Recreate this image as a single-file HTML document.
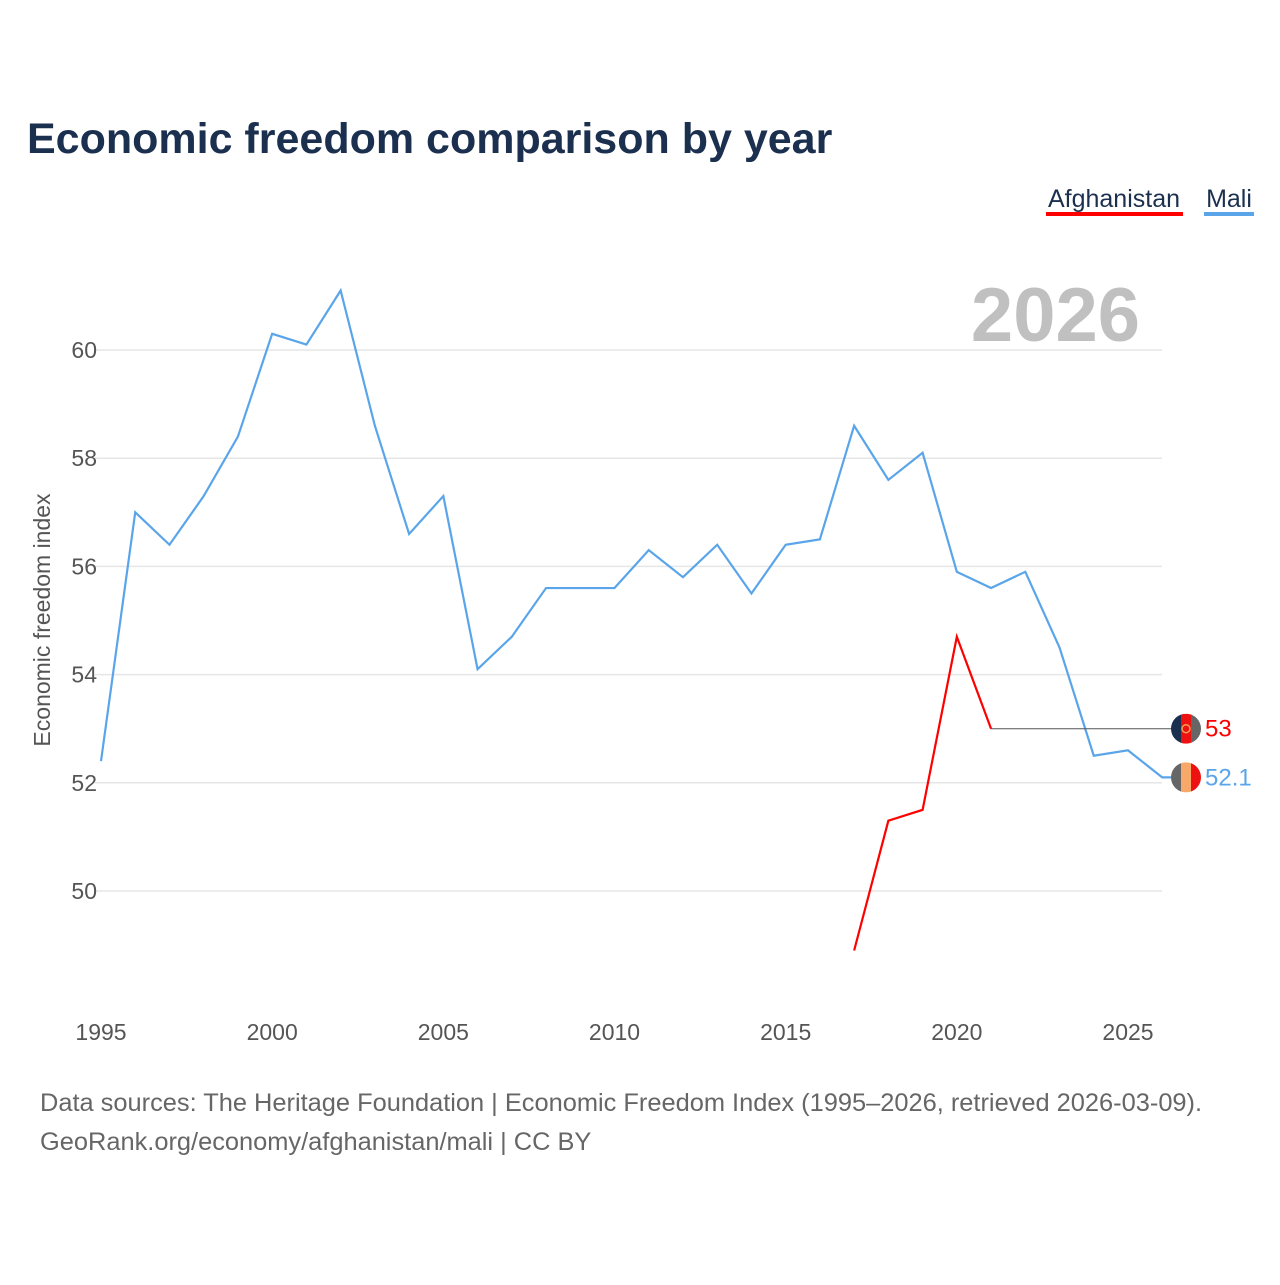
<!DOCTYPE html>
<html><head><meta charset="utf-8">
<style>
body{margin:0;background:#fff;}
svg text{font-family:"Liberation Sans",sans-serif;}
</style></head>
<body>
<svg id="chart" width="1280" height="1280" viewBox="0 0 1280 1280" xmlns="http://www.w3.org/2000/svg">
<rect width="1280" height="1280" fill="#fff"/>
<text x="27" y="153" font-size="43" font-weight="bold" fill="#1b2f4f">Economic freedom comparison by year</text>
<g>
<text x="1114" y="207" font-size="25" fill="#1b2f4f" text-anchor="middle">Afghanistan</text>
<rect x="1046" y="212" width="137" height="4" fill="#ff0000"/>
</g>
<g>
<text x="1229" y="207" font-size="25" fill="#1b2f4f" text-anchor="middle">Mali</text>
<rect x="1204" y="212" width="50" height="4" fill="#5aa5ea"/>
</g>
<text x="1140" y="341" font-size="76" font-weight="bold" fill="#c0c0c0" text-anchor="end">2026</text>
<text transform="translate(50,620) rotate(-90)" font-size="23" fill="#555" text-anchor="middle">Economic freedom index</text>
<g id="grid"></g><g id="yticks"></g><g id="xticks"></g><g id="series"></g><g id="ends"></g>
<text x="40" y="1111" font-size="25.4" fill="#666">Data sources: The Heritage Foundation | Economic Freedom Index (1995–2026, retrieved 2026-03-09).</text>
<text x="40" y="1150" font-size="25.4" fill="#666">GeoRank.org/economy/afghanistan/mali | CC BY</text>
</svg>
<script>
const years=[1995,1996,1997,1998,1999,2000,2001,2002,2003,2004,2005,2006,2007,2008,2009,2010,2011,2012,2013,2014,2015,2016,2017,2018,2019,2020,2021,2022,2023,2024,2025,2026];
const maliValues=[52.4,57.0,56.4,57.3,58.4,60.3,60.1,61.1,58.6,56.6,57.3,54.1,54.7,55.6,55.6,55.6,56.3,55.8,56.4,55.5,56.4,56.5,58.6,57.6,58.1,55.9,55.6,55.9,54.5,52.5,52.6,52.1];
const afgYears=[2017,2018,2019,2020,2021];
const afgValues=[48.9,51.3,51.5,54.7,53.0];
const yTicks=[50,52,54,56,58,60];
const xTicks=[1995,2000,2005,2010,2015,2020,2025];
const NS='http://www.w3.org/2000/svg';
const x=y=>101+(y-1995)*(1128-101)/30;
const yS=v=>891-(v-50)*(891-350)/10;
function mk(t,a,p){const e=document.createElementNS(NS,t);for(const k in a)e.setAttribute(k,a[k]);document.getElementById(p).appendChild(e);return e;}
yTicks.forEach(v=>{
 const l=mk('line',{x1:95,x2:1162,y1:yS(v),y2:yS(v),stroke:'#e6e6e6','stroke-width':1.5},'grid');
 
 
 const t=mk('text',{x:97,y:yS(v)+8,'font-size':23,fill:'#555','text-anchor':'end'},'yticks');
 t.textContent=v;
 
 
});
xTicks.forEach(v=>{
 const t=mk('text',{x:x(v),y:1040,'font-size':23,fill:'#555','text-anchor':'middle'},'xticks');
 t.textContent=v;
 
 
});
const mp=mk('polyline',{points:years.map((y,i)=>x(y)+','+yS(maliValues[i])).join(' ')+' 1172,'+yS(maliValues[maliValues.length-1]),fill:'none',stroke:'#5aa5ea','stroke-width':2.2},'series');


const ap=mk('polyline',{points:afgYears.map((y,i)=>x(y)+','+yS(afgValues[i])).join(' '),fill:'none',stroke:'#ff0000','stroke-width':2.2},'series');


const aLast=afgValues[afgValues.length-1], mLast=maliValues[maliValues.length-1];
const c=mk('line',{x1:x(afgYears[afgYears.length-1]),x2:1172,y1:yS(aLast),y2:yS(aLast),stroke:'#555','stroke-width':1},'series');


function flag(cy,cols,name,id){
 const g=mk('g',{},'ends');
 
 
 const cp=mk('clipPath',{id:id},'ends');mk('circle',{cx:1186,cy:cy,r:15},id);
 cols.forEach((col,i)=>{const r=document.createElementNS(NS,'rect');r.setAttribute('x',1171+i*10);r.setAttribute('y',cy-15);r.setAttribute('width',10.5);r.setAttribute('height',30);r.setAttribute('fill',col);r.setAttribute('clip-path','url(#'+id+')');g.appendChild(r);});
 return g;
}
const af=flag(yS(aLast),['#1b2f4f','#ee1111','#666'],'afghanistan-flag','clipA');
const em=document.createElementNS(NS,'circle');em.setAttribute('cx',1186);em.setAttribute('cy',yS(aLast));em.setAttribute('r',4);em.setAttribute('fill','none');em.setAttribute('stroke','#f5a050');em.setAttribute('stroke-width',1.5);af.appendChild(em);
flag(yS(mLast),['#666','#f8a868','#ee1111'],'mali-flag','clipM');
const at=mk('text',{x:1205,y:yS(aLast)+8,'font-size':24,fill:'#ff0000'},'ends');at.textContent=aLast.toFixed(0);


const mt=mk('text',{x:1205,y:yS(mLast)+8,'font-size':24,fill:'#5aa5ea'},'ends');mt.textContent=mLast.toFixed(1);


</script>
</body></html>
